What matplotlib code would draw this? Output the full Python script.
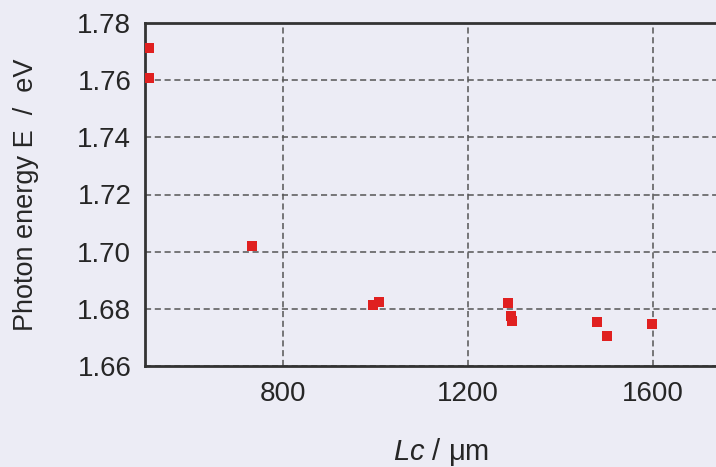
import matplotlib
matplotlib.use("Agg")
import matplotlib.pyplot as plt

# cavity length (um) and peak photon energy (eV)
cavity_length = [510, 510, 733, 995, 1008, 1286, 1292, 1295, 1478, 1500, 1598]
photon_energy = [1.7714, 1.7609, 1.7020, 1.6815, 1.6823, 1.6820, 1.6775, 1.6758,
                 1.6754, 1.6705, 1.6747]

x_ticks = [800, 1200, 1600]
y_ticks = [1.66, 1.68, 1.70, 1.72, 1.74, 1.76, 1.78]

plt.rcParams['font.family'] = ['Liberation Sans', 'DejaVu Sans']
plt.rcParams['mathtext.fontset'] = 'custom'
plt.rcParams['mathtext.it'] = 'Liberation Sans:italic'
plt.rcParams['mathtext.rm'] = 'Liberation Sans'

bg = '#ececf5'
fig = plt.figure(figsize=(7.16, 4.67), dpi=100, facecolor=bg)
ax = fig.add_axes([144.5 / 716, 101 / 467, 601.25 / 716, 343 / 467])
ax.set_facecolor(bg)

ax.plot(cavity_length, photon_energy, 's', color='#e02020', markersize=6.8,
        markeredgewidth=0, zorder=3)

ax.set_xlim(500, 1800)
ax.set_ylim(1.66, 1.78)
ax.set_xticks(x_ticks)
ax.set_yticks(y_ticks)
ax.set_yticklabels([f'{v:.2f}' for v in y_ticks])
ax.tick_params(length=0, labelsize=20, colors='#262626')
ax.tick_params(axis='x', pad=11)
ax.tick_params(axis='y', pad=9.5)

ax.grid(True, color='#555555', linewidth=1.1, linestyle=(0, (4.0, 2.4)))
ax.set_axisbelow(True)
for side in ['left', 'bottom', 'top']:
    ax.spines[side].set_linewidth(2.0)
    ax.spines[side].set_color('#333333')
ax.spines['right'].set_visible(False)

ax.set_xlabel(r'$\mathit{Lc}$ / μm', fontsize=21, color='#262626')
ax.xaxis.set_label_coords((441 - 144.5) / 601.25, -0.205)
ax.set_ylabel('Photon energy E  /  eV', fontsize=19.5, color='#262626')
ax.yaxis.set_label_coords(-(144.5 - 39) / 601.25, 0.5)

fig.savefig('out.png', dpi=100, facecolor=bg)
